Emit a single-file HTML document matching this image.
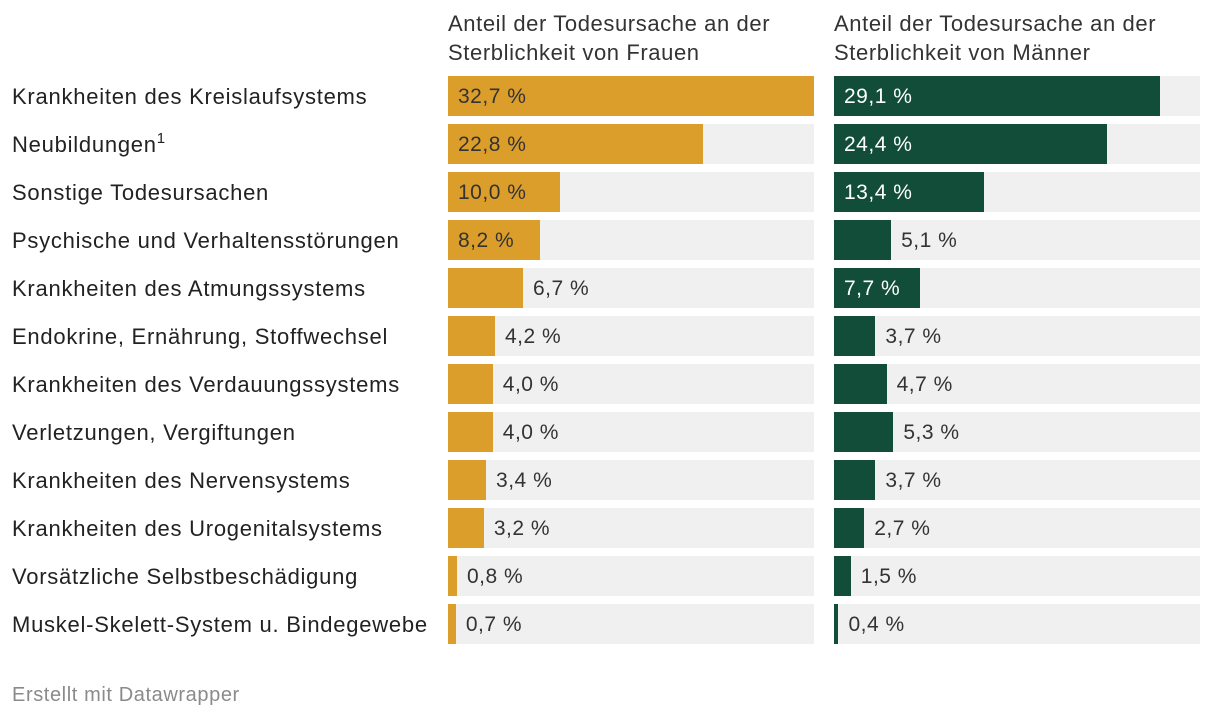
<!DOCTYPE html>
<html><head><meta charset="utf-8">
<style>
body{margin:0;width:1220px;height:720px;background:#fff;font-family:"Liberation Sans",sans-serif;overflow:hidden;position:relative}
.t{position:absolute;font-size:22px;letter-spacing:0.6px;color:#333;line-height:29px}
</style></head><body>
<div class="t" style="left:448px;top:9px">Anteil der Todesursache an der<br>Sterblichkeit von Frauen</div>
<div class="t" style="left:834px;top:9px">Anteil der Todesursache an der<br>Sterblichkeit von Männer</div>
<div id="chart"></div>
<div style="position:absolute;left:12px;top:684px;font-size:20px;letter-spacing:0.6px;color:#8a8a8a">Erstellt mit Datawrapper</div>
<script>
const categories=["Krankheiten des Kreislaufsystems","Neubildungen","Sonstige Todesursachen","Psychische und Verhaltensstörungen","Krankheiten des Atmungssystems","Endokrine, Ernährung, Stoffwechsel","Krankheiten des Verdauungssystems","Verletzungen, Vergiftungen","Krankheiten des Nervensystems","Krankheiten des Urogenitalsystems","Vorsätzliche Selbstbeschädigung","Muskel-Skelett-System u. Bindegewebe"];
const women=[32.7,22.8,10.0,8.2,6.7,4.2,4.0,4.0,3.4,3.2,0.8,0.7];
const men=[29.1,24.4,13.4,5.1,7.7,3.7,4.7,5.3,3.7,2.7,1.5,0.4];
const maxVal=32.7;
const c=document.getElementById('chart');
function x(v){return v/maxVal*366;}
function fmt(v){return v.toFixed(1).replace('.',',')+' %';}
function div(css,txt){const d=document.createElement('div');d.style.cssText='position:absolute;'+css;if(txt!==undefined)d.textContent=txt;c.appendChild(d);return d;}
categories.forEach((cat,i)=>{
  const top=76+i*48;
  const l=div(`left:12px;top:${top+1}px;height:40px;line-height:40px;font-size:22px;letter-spacing:0.75px;color:#222`,cat);
  
  
  if(i===1){const s=document.createElement('span');s.textContent='1';s.style.cssText='font-size:15px;position:relative;top:-9px;line-height:0';l.appendChild(s);}
  [[448,women[i],'#dc9e2b','#333','women'],[834,men[i],'#114d38','#fff','men']].forEach(([x0,v,col,inC,key])=>{
    const bg=div(`left:${x0}px;top:${top}px;width:366px;height:40px;background:#f0f0f0`);
    
    
    const w=x(v);
    const b=div(`left:${x0}px;top:${top}px;width:${w}px;height:40px;background:${col}`);
    
    
    const inside=w>80;
    const t=div(`left:${inside?x0+10:x0+w+10}px;top:${top+1}px;line-height:40px;font-size:21px;letter-spacing:0.5px;color:${inside?inC:'#333'}`,fmt(v));
    
    
  });
});
</script>
</body></html>
